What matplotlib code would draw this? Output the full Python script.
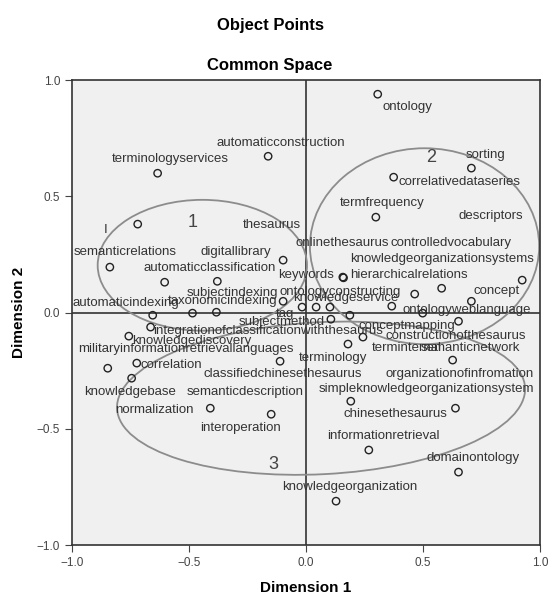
import matplotlib
matplotlib.use('Agg')
import matplotlib.pyplot as plt
from matplotlib.patches import Ellipse

plt.rcParams['font.family'] = ['Liberation Sans', 'DejaVu Sans']

# 点坐标 (Dimension 1, Dimension 2)
pts_x = [0.306, -0.162, -0.634, 0.706, 0.374, 0.298, -0.719, -0.838, -0.098, -0.604,
         -0.379, -0.098, 0.157, 0.160, 0.923, 0.579, 0.464, -0.017, 0.043, 0.102,
         0.366, 0.706, 0.498, 0.187, 0.106, 0.651, 0.243, 0.179, 0.626, -0.655,
         -0.485, -0.383, -0.664, -0.757, -0.847, -0.723, -0.745, -0.111, -0.409, -0.149,
         0.191, 0.638, 0.268, 0.651, 0.128]
pts_y = [0.940, 0.673, 0.600, 0.622, 0.583, 0.411, 0.381, 0.196, 0.226, 0.131,
         0.135, 0.049, 0.153, 0.150, 0.140, 0.105, 0.080, 0.024, 0.024, 0.024,
         0.028, 0.049, -0.002, -0.011, -0.028, -0.037, -0.105, -0.135, -0.204, -0.011,
         -0.002, 0.002, -0.062, -0.101, -0.239, -0.217, -0.282, -0.209, -0.411, -0.437,
         -0.381, -0.411, -0.591, -0.686, -0.811]

# 标签及其位置
names = ['ontology', 'automaticconstruction', 'terminologyservices', 'sorting',
         'correlativedataseries', 'termfrequency', 'descriptors', 'I',
         'semanticrelations', 'thesaurus', 'digitallibrary', 'automaticclassification',
         'onlinethesaurus', 'controlledvocabulary', 'knowledgeorganizationsystems',
         'keywords', 'hierarchicalrelations', 'concept', 'subjectindexing',
         'ontologyconstructing', 'knowledgeservice', 'automaticindexing',
         'taxonomicindexing', 'ontologyweblanguage', 'tag', 'subjectmethod',
         'integrationofclassificationwiththesaurus', 'conceptmapping',
         'constructionofthesaurus', 'knowledgediscovery',
         'militaryinformationretrievallanguages', 'terminternal', 'semanticnetwork',
         'terminology', 'correlation', 'classifiedchinesethesaurus',
         'organizationofinfromation', 'knowledgebase', 'semanticdescription',
         'simpleknowledgeorganizationsystem', 'normalization', 'chinesethesaurus',
         'interoperation', 'informationretrieval', 'domainontology',
         'knowledgeorganization']
name_x = [0.434, -0.106, -0.579, 0.766, 0.655, 0.323, 0.787, -0.855, -0.774, -0.145,
          -0.302, -0.413, 0.153, 0.621, 0.579, 0.0, 0.438, 0.813, -0.315, 0.145,
          0.170, -0.770, -0.357, 0.685, -0.089, -0.102, -0.162, 0.430, 0.638, -0.489,
          -0.515, 0.430, 0.702, 0.115, -0.574, -0.098, 0.655, -0.753, -0.260, 0.515,
          -0.647, 0.383, -0.281, 0.332, 0.715, 0.187]
name_y = [0.884, 0.729, 0.660, 0.677, 0.561, 0.471, 0.415, 0.355, 0.260, 0.376,
          0.260, 0.191, 0.299, 0.299, 0.230, 0.161, 0.161, 0.092, 0.084, 0.088,
          0.062, 0.041, 0.049, 0.011, -0.006, -0.041, -0.080, -0.058, -0.101, -0.123,
          -0.157, -0.153, -0.153, -0.196, -0.226, -0.265, -0.265, -0.342, -0.342, -0.329,
          -0.419, -0.437, -0.497, -0.531, -0.626, -0.751]

# 聚类椭圆
groups = ['1', '2', '3']
group_x = [-0.485, 0.536, -0.140]
group_y = [0.389, 0.669, -0.652]
ell_cx = [-0.443, 0.506, 0.064]
ell_cy = [0.204, 0.286, -0.368]
ell_w = [0.894, 0.979, 1.745]
ell_h = [0.563, 0.843, 0.654]
ell_angle = [0, 0, 3]

fig = plt.figure(figsize=(5.49, 5.99), dpi=100)
ax = fig.add_axes([0.131, 0.090, 0.853, 0.776])
ax.set_facecolor('#f0f0f0')

# 十字参考线
ax.axhline(0, color='#333333', lw=1.2, zorder=1)
ax.axvline(0, color='#333333', lw=1.2, zorder=1)

for cx, cy, w, h, a in zip(ell_cx, ell_cy, ell_w, ell_h, ell_angle):
    ax.add_patch(Ellipse((cx, cy), w, h, angle=a, fill=False,
                         edgecolor='#8c8c8c', lw=1.3, zorder=2))

ax.scatter(pts_x, pts_y, s=28, facecolors='none', edgecolors='#222222',
           linewidths=1.0, zorder=3)

for name, x, y in zip(names, name_x, name_y):
    ax.text(x, y, name, ha='center', va='center', fontsize=9.5,
            color='#333333', zorder=4)

for g, x, y in zip(groups, group_x, group_y):
    ax.text(x, y, g, ha='center', va='center', fontsize=13,
            color='#444444', zorder=4)

ax.set_xlim(-1.0, 1.0)
ax.set_ylim(-1.0, 1.0)
ax.set_xticks([-1.0, -0.5, 0.0, 0.5, 1.0])
ax.set_yticks([-1.0, -0.5, 0.0, 0.5, 1.0])
ax.tick_params(labelsize=8.5, colors='#444444', length=5)
for sp in ax.spines.values():
    sp.set_color('#333333')
    sp.set_linewidth(1.2)

ax.set_xlabel('Dimension 1', fontsize=11, fontweight='bold', labelpad=9)
ax.set_ylabel('Dimension 2', fontsize=11, fontweight='bold', labelpad=8)

fig.text(0.492, 0.957, 'Object Points', ha='center', va='center',
         fontsize=12, fontweight='bold')
fig.text(0.492, 0.890, 'Common Space', ha='center', va='center',
         fontsize=12, fontweight='bold')

plt.savefig('out.png', dpi=100)
